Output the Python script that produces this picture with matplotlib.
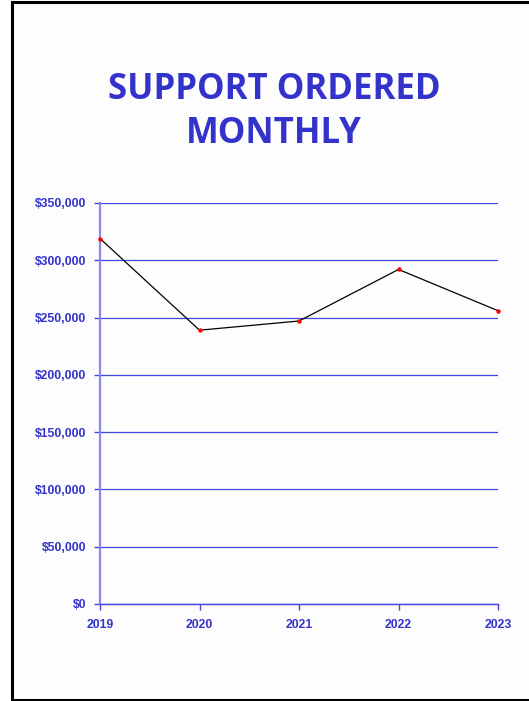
import matplotlib
matplotlib.use("Agg")
import matplotlib.pyplot as plt
from matplotlib.ticker import FuncFormatter

years = ["2019", "2020", "2021", "2022", "2023"]
support = [319000, 239000, 247000, 292000, 256000]
yticks = [0, 50000, 100000, 150000, 200000, 250000, 300000, 350000]
title_lines = ["SUPPORT ORDERED", "MONTHLY"]

W, H = 529, 701
fig = plt.figure(figsize=(W / 100, H / 100), dpi=100)
fig.patch.set_facecolor("white")

blue = "#3333CC"
grid_blue = "#4444DD"

def fx(x):
    return x / W
def fy(y):
    return 1 - y / H

fig.patches.append(plt.Rectangle((fx(12), fy(700)), fx(W + 10) - fx(12), fy(2) - fy(700),
                                 transform=fig.transFigure, facecolor="#FDFDFD",
                                 edgecolor="black", linewidth=2.2, zorder=-10))

for txt, base in zip(title_lines, [99, 143]):
    t = fig.text(fx(274), fy(base), txt, ha="center", va="baseline",
                 fontsize=25, fontweight="bold", color=blue, family="Open Sans")

ax = fig.add_axes([fx(100), fy(604), fx(498) - fx(100), fy(203) - fy(604)])
ax.set_facecolor("none")
x = list(range(len(years)))
ax.plot(x, support, color="black", linewidth=0.9, zorder=3)
ax.plot(x, support, linestyle="none", marker="o", markersize=3.2, color="red",
        markeredgewidth=0, zorder=4, clip_on=False)

ax.set_xlim(0, len(years) - 1)
ax.set_ylim(0, 350000)
ax.set_yticks(yticks)
ax.set_xticks(x)
ax.set_xticklabels(years)
ax.yaxis.set_major_formatter(FuncFormatter(lambda v, p: "${:,.0f}".format(v)))
ax.grid(axis="y", color=grid_blue, linewidth=0.9)
ax.set_axisbelow(True)
for s in ["top", "right"]:
    ax.spines[s].set_visible(False)
ax.spines["left"].set_color("#8888EE")
ax.spines["left"].set_linewidth(1.6)
ax.spines["bottom"].set_color(grid_blue)
ax.spines["bottom"].set_linewidth(1.0)
ax.tick_params(axis="y", length=4, width=1.0, color=grid_blue, pad=6,
               labelsize=8.8, labelcolor=blue)
ax.tick_params(axis="x", length=4, width=1.0, color=grid_blue, pad=7,
               labelsize=8.8, labelcolor=blue)
for lab in ax.get_xticklabels() + ax.get_yticklabels():
    lab.set_fontweight("bold")
    lab.set_family("Liberation Sans")

fig.savefig("out.png", dpi=100)
